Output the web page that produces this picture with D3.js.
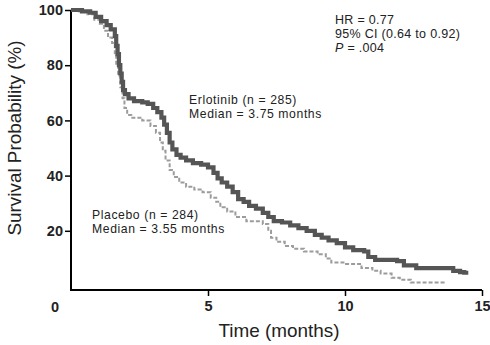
<!DOCTYPE html>
<html>
<head>
<meta charset="utf-8">
<script src="https://cdn.jsdelivr.net/npm/d3@7"></script>
<style>
  html, body { margin: 0; padding: 0; background: #fff; }
  svg { display: block; font-family: "Liberation Sans", Arial, sans-serif; }
</style>
</head>
<body>
<svg id="chart" width="490" height="345"></svg>
<script>
// ---- data (time in months, survival %) ----
const erlotinibTime = [0, 0.4, 0.7, 0.9, 1.1, 1.3, 1.45, 1.6, 1.65, 1.7, 1.75, 1.8, 1.85, 1.9, 1.97, 2.1, 2.3, 2.6, 2.8, 3.0, 3.15, 3.3, 3.4, 3.5, 3.6, 3.7, 3.85, 4.0, 4.2, 4.45, 4.75, 5.0, 5.2, 5.35, 5.5, 5.7, 5.9, 6.1, 6.3, 6.5, 6.75, 7.0, 7.2, 7.4, 7.7, 8.0, 8.3, 8.6, 8.9, 9.15, 9.4, 9.7, 10.0, 10.3, 10.7, 10.85, 11.1, 11.9, 12.15, 12.6, 13.95, 14.2, 14.35, 14.5];
const erlotinibSurv = [100, 99.5, 99, 97.5, 96, 94.5, 93, 90.5, 87, 84, 80, 77, 74, 71, 69.5, 68, 67, 66.5, 66, 64.5, 63, 61, 58.5, 55.5, 52, 49.5, 47.5, 46.5, 45.5, 44.5, 44, 43, 41, 39, 37.5, 36, 34, 31.5, 30.5, 29, 28, 26.5, 25, 23.5, 23, 22, 21, 20, 18.5, 17.5, 16.5, 15.5, 14, 13, 12.5, 10.5, 9.5, 9, 7.5, 6.5, 5.5, 5, 4.8, 4.8];

const placeboTime = [0, 0.3, 0.6, 0.85, 1.05, 1.2, 1.35, 1.5, 1.6, 1.65, 1.72, 1.8, 1.88, 1.95, 2.05, 2.2, 2.6, 2.9, 3.1, 3.25, 3.35, 3.45, 3.6, 3.75, 3.95, 4.2, 4.5, 4.8, 5.1, 5.3, 5.45, 5.7, 6.0, 6.4, 7.0, 7.2, 7.3, 7.5, 7.8, 8.1, 8.5, 9.0, 9.3, 9.5, 10.0, 10.6, 11.0, 11.3, 11.7, 12.0, 12.4, 13.7];
const placeboSurv = [100, 99.5, 98.5, 96.5, 95, 92.5, 90, 88, 84, 80, 76, 72, 68, 64.5, 62, 61, 60, 58, 55.5, 52, 49, 45.5, 42, 39.5, 37.5, 36, 35, 34, 32, 30.5, 28.5, 27, 25, 23.5, 22.5, 20, 17.5, 16, 14.5, 13.5, 12.5, 11.5, 10, 8.5, 8, 6.5, 5.5, 4.5, 3, 2.3, 1.3, 1.3];

const xTicks = [5, 10, 15];
const yTicks = [20, 40, 60, 80, 100];

const erlotinibLabel = ["Erlotinib (n = 285)", "Median = 3.75 months"];
const placeboLabel = ["Placebo (n = 284)", "Median = 3.55 months"];
const statsLabel = ["HR = 0.77", "95% CI (0.64 to 0.92)", ".004"];
const xTitle = "Time (months)";
const yTitle = "Survival Probability (%)";

// ---- layout ----
const svg = d3.select("#chart");
const plotLeft = 71, plotRight = 482, plotTop = 10, zeroY = 286, axisY = 290;

const x = d3.scaleLinear().domain([0, 15]).range([plotLeft, plotRight]);
const y = d3.scaleLinear().domain([0, 100]).range([zeroY, plotTop]);

const textColor = "#222";

// y axis
const yAxis = svg.append("g")
  .attr("transform", `translate(${plotLeft},0)`)
  .call(d3.axisLeft(y).tickValues(yTicks).tickSize(6).tickPadding(2));
yAxis.select(".domain").remove();
yAxis.append("line").attr("x1", 0).attr("x2", 0).attr("y1", plotTop).attr("y2", axisY + 1)
  .attr("stroke", "#000").attr("stroke-width", 2);
yAxis.selectAll(".tick line").attr("stroke", "#000").attr("stroke-width", 1.5);
yAxis.selectAll(".tick text").attr("font-size", 14.5).attr("font-weight", "bold")
  .attr("fill", textColor).attr("font-family", "'Liberation Sans', Arial, sans-serif");

// x axis
const xAxis = svg.append("g")
  .attr("transform", `translate(0,${axisY})`)
  .call(d3.axisBottom(x).tickValues(xTicks).tickSize(6).tickPadding(5));
xAxis.select(".domain").remove();
xAxis.append("line").attr("x1", plotLeft - 1).attr("x2", plotRight).attr("y1", 0).attr("y2", 0)
  .attr("stroke", "#000").attr("stroke-width", 2);
xAxis.selectAll(".tick line").attr("stroke", "#000").attr("stroke-width", 1.5);
xAxis.selectAll(".tick text").attr("font-size", 14.5).attr("font-weight", "bold")
  .attr("fill", textColor).attr("font-family", "'Liberation Sans', Arial, sans-serif");

// corner "0" label
svg.append("text").attr("x", x(0) - 16).attr("y", 312).attr("text-anchor", "middle")
  .attr("font-size", 14.5).attr("font-weight", "bold").attr("fill", textColor).text("0");

// axis titles
svg.append("text")
  .attr("transform", `translate(21,138) rotate(-90)`)
  .attr("text-anchor", "middle").attr("font-size", 18).attr("fill", textColor)
  .attr("textLength", 195).attr("lengthAdjust", "spacingAndGlyphs")
  .text(yTitle);
svg.append("text")
  .attr("x", 279).attr("y", 337).attr("text-anchor", "middle")
  .attr("font-size", 19).attr("fill", textColor)
  .attr("textLength", 121).attr("lengthAdjust", "spacingAndGlyphs")
  .text(xTitle);

// curves
const line = d3.line().x(d => x(d[0])).y(d => y(d[1])).curve(d3.curveStepAfter);
const placeboData = placeboTime.map((t, i) => [t, placeboSurv[i]]);
const erlotinibData = erlotinibTime.map((t, i) => [t, erlotinibSurv[i]]);

svg.append("path").datum(placeboData).attr("d", line)
  .attr("fill", "none").attr("stroke", "#9c9c9c").attr("stroke-width", 2)
  .attr("stroke-dasharray", "4,2");
svg.append("path").datum(erlotinibData).attr("d", line)
  .attr("fill", "none").attr("stroke", "#555").attr("stroke-width", 4.2)
  .attr("stroke-linejoin", "miter");

// annotations
function block(lines, x0, y0, lh) {
  const t = svg.append("text").attr("font-size", 12.2).attr("letter-spacing", 0.6).attr("fill", textColor);
  lines.forEach((s, i) => t.append("tspan").attr("x", x0).attr("y", y0 + i * lh).text(s));
  return t;
}
block(erlotinibLabel, 189, 103.5, 14);
block(placeboLabel, 92, 218.5, 14);

const st = svg.append("text").attr("font-size", 12.5).attr("letter-spacing", 0.3).attr("fill", textColor);
st.append("tspan").attr("x", 335).attr("y", 24).text(statsLabel[0]);
st.append("tspan").attr("x", 335).attr("y", 38).text(statsLabel[1]);
const p = st.append("tspan").attr("x", 335).attr("y", 52);
p.append("tspan").attr("font-style", "italic").text("P");
p.append("tspan").text(" = " + statsLabel[2]);
</script>
</body>
</html>
